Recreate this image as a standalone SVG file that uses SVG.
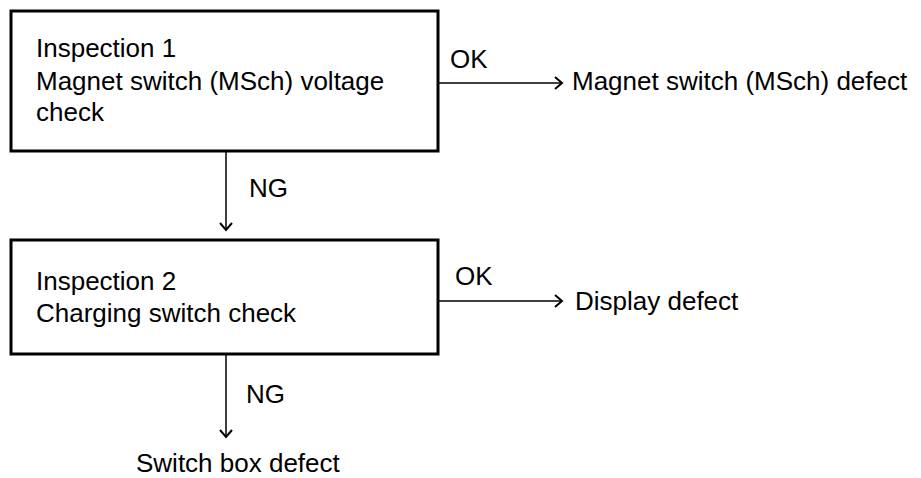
<svg xmlns="http://www.w3.org/2000/svg" width="921" height="478" viewBox="0 0 921 478">
<style>
.box{fill:#fff;stroke:#000;stroke-width:3}
.t{font-family:"Liberation Sans",Arial,sans-serif;font-size:26px;fill:#000}
.c{stroke:#000;stroke-width:1.5;fill:none}
.ah{stroke:#000;stroke-width:2;fill:none}
</style>
<rect width="921" height="478" fill="#fff"/>
<g id="connectors">
<line class="c" x1="438" y1="83" x2="562" y2="83"/>
<path class="ah" d="M555,77 L562,83 L555,89"/>
<line class="c" x1="226" y1="151" x2="226" y2="230"/>
<path class="ah" d="M220,223 L226,230 L232,223"/>
<line class="c" x1="438" y1="301" x2="562" y2="301"/>
<path class="ah" d="M555,295 L562,301 L555,307"/>
<line class="c" x1="226" y1="354" x2="226" y2="437"/>
<path class="ah" d="M220,430 L226,437 L232,430"/>
<text class="t" x="450" y="68">OK</text>
<text class="t" x="249" y="197">NG</text>
<text class="t" x="455" y="285">OK</text>
<text class="t" x="246" y="403">NG</text>
</g>
<g id="inspection1">
<rect class="box" x="11" y="11" width="427" height="140"/>
<text class="t" x="36" y="57">Inspection 1</text>
<text class="t" x="36" y="90">Magnet switch (MSch) voltage</text>
<text class="t" x="36" y="121">check</text>
</g>
<g id="msch-defect">
<text class="t" x="572" y="90">Magnet switch (MSch) defect</text>
</g>
<g id="inspection2">
<rect class="box" x="11" y="240" width="427" height="114"/>
<text class="t" x="36" y="290">Inspection 2</text>
<text class="t" x="36" y="322">Charging switch check</text>
</g>
<g id="display-defect">
<text class="t" x="575" y="310">Display defect</text>
</g>
<g id="switchbox-defect">
<text class="t" x="136" y="472">Switch box defect</text>
</g>
</svg>
